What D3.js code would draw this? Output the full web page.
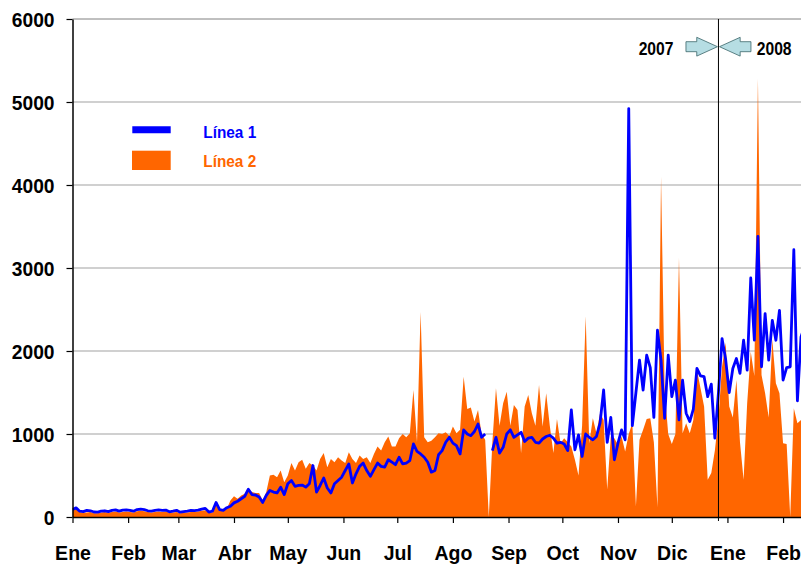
<!DOCTYPE html>
<html>
<head>
<meta charset="utf-8">
<script src="https://cdn.jsdelivr.net/npm/d3@7"></script>
<style>
  html, body { margin: 0; padding: 0; background: #ffffff; }
  svg { display: block; }
  text { font-family: "Liberation Sans", Arial, sans-serif; font-weight: bold; }
</style>
</head>
<body>
<script>
// ---------------- DATA ----------------
const seriesNames = ["Línea 1", "Línea 2"];
const monthLabels = ["Ene","Feb","Mar","Abr","May","Jun","Jul","Ago","Sep","Oct","Nov","Dic","Ene","Feb"];
const yTickValues = [0, 1000, 2000, 3000, 4000, 5000, 6000];
const yearLabels = ["2007", "2008"];
const startDate = Date.UTC(2007, 0, 1);
const endDate = Date.UTC(2008, 1, 11);
const yearBreakDate = Date.UTC(2007, 11, 27);
const stepDays = 2; // one value every 2 days

// Línea 1 (blue line), one value every 2 days from 1 Jan 2007
const linea1 = [
  90,110,70,65,80,75,60,58,70,75,
  65,80,85,70,82,85,80,70,90,96,
  88,75,72,80,85,80,84,62,70,80,
  58,65,72,80,78,82,95,104,60,70,
  175,90,80,112,130,170,190,220,250,335,
  270,265,240,175,260,320,300,290,360,270,
  400,440,370,380,385,360,400,620,300,380,
  470,350,290,400,440,480,560,640,410,520,
  610,650,560,490,570,650,610,600,690,660,
  630,720,640,650,680,880,790,760,720,660,
  540,560,750,800,900,960,890,860,760,1050,
  1000,980,1030,1120,960,1000,null,800,960,770,
  840,1000,1050,960,990,1020,910,950,960,900,
  890,940,970,985,950,890,900,880,800,1290,
  810,990,730,1000,960,930,970,1130,1530,900,
  1200,690,890,1050,930,4920,1100,1500,1890,1530,
  1950,1800,1200,2250,1890,1190,1950,1450,1650,1170,
  1650,1250,1150,1300,1790,1700,1690,1450,1600,950,
  1500,2150,1900,1500,1790,1910,1730,2130,1770,2880,
  2130,3380,1810,2450,1890,2370,2130,2490,1650,1800,
  1810,3220,1400,2170,2300
];

// Línea 2 (orange area), one value every 2 days from 1 Jan 2007
const linea2 = [
  90,100,60,50,55,60,45,45,55,60,
  50,60,65,55,60,65,60,55,70,75,
  70,60,55,60,65,60,65,50,55,60,
  45,50,55,60,60,65,75,80,50,55,
  150,75,70,100,200,250,220,260,280,330,
  300,290,290,200,300,500,510,480,560,420,
  500,650,560,660,690,580,650,620,560,700,
  770,600,700,660,720,680,650,780,700,650,
  740,700,720,650,760,850,800,900,970,850,
  850,950,1000,960,1010,1530,900,2470,960,900,
  920,960,1010,1000,1020,980,1090,1010,1050,1690,
  1300,1320,1150,1290,1000,930,0,900,1550,1100,
  1370,1510,1100,1350,1290,770,1330,1470,1250,1100,
  1590,1090,1490,1100,770,1180,890,950,900,850,
  690,500,1100,2420,890,1190,1010,1250,1170,330,
  970,950,870,970,790,1000,1130,130,930,1050,
  1180,1190,900,120,4100,1530,1000,880,1000,3120,
  1010,1130,1010,1170,1770,1550,1330,450,530,800,
  1200,1810,2100,1330,1200,1650,900,450,1370,1990,
  1700,5280,1710,1490,1200,2140,1610,1490,890,880,
  0,1310,1130,1170,770
];

// ---------------- CHART ----------------
const W = 801, H = 567;
const dayMs = 86400000;
const toRows = arr => arr.map((v, i) => ({ date: new Date(startDate + i * stepDays * dayMs), v }));
const rows1 = toRows(linea1);
const rows2 = toRows(linea2);

const svg = d3.select("body").append("svg").attr("width", W).attr("height", H);

const x = d3.scaleUtc().domain([new Date(startDate), new Date(endDate)]).range([72.5, 801]);
const y = d3.scaleLinear().domain([0, 6000]).range([517, 19]);

// gridlines
svg.append("g").selectAll("line")
  .data(yTickValues.filter(v => v > 0))
  .join("line")
  .attr("x1", x.range()[0]).attr("x2", W)
  .attr("y1", d => y(d)).attr("y2", d => y(d))
  .attr("stroke", d => d === 6000 ? "#808080" : "#c0c0c0")
  .attr("stroke-width", d => d === 6000 ? 1 : 1.5);

// clip
svg.append("clipPath").attr("id", "plotclip")
  .append("rect").attr("x", 72.5).attr("y", 0).attr("width", W - 72.5).attr("height", 517.5);

// orange area
svg.append("path")
  .datum(rows2)
  .attr("clip-path", "url(#plotclip)")
  .attr("fill", "#ff6600")
  .attr("d", d3.area().x(d => x(d.date)).y0(y(0)).y1(d => y(d.v)));

// blue line
svg.append("path")
  .datum(rows1)
  .attr("clip-path", "url(#plotclip)")
  .attr("fill", "none")
  .attr("stroke", "#0000ff")
  .attr("stroke-width", 2.8)
  .attr("stroke-linejoin", "round")
  .attr("d", d3.line().defined(d => d.v != null).x(d => x(d.date)).y(d => y(d.v)));

// year divider
const xb = x(new Date(yearBreakDate));
svg.append("line")
  .attr("x1", xb).attr("x2", xb).attr("y1", y(6000)).attr("y2", 521)
  .attr("stroke", "#000").attr("stroke-width", 1);

// axes
const ySX = 0.915;
const yAxis = svg.append("g")
  .attr("transform", `translate(${x.range()[0]},0)`)
  .call(d3.axisLeft(y).tickValues(yTickValues).tickSize(6).tickSizeOuter(0)
        .tickFormat(d => String(d)));
yAxis.select(".domain").attr("stroke", "#000").attr("stroke-width", 1.5);
yAxis.selectAll(".tick line").attr("stroke", "#000").attr("stroke-width", 1.2);
yAxis.selectAll(".tick text")
  .attr("x", -18 / ySX).attr("dy", "0.36em")
  .attr("transform", `scale(${ySX},1)`)
  .attr("fill", "#000")
  .style("font-size", "21px").style("font-family", "'Liberation Sans', Arial, sans-serif").style("font-weight", "bold");

const monthTicks = d3.utcMonth.range(new Date(startDate), new Date(endDate));
const xSX = 0.93;
const xAxis = svg.append("g")
  .attr("transform", `translate(0,${y(0)})`)
  .call(d3.axisBottom(x).tickValues(monthTicks).tickSize(6).tickSizeOuter(0)
        .tickFormat((d, i) => monthLabels[i]));
xAxis.select(".domain").attr("stroke", "#000").attr("stroke-width", 1.5);
xAxis.selectAll(".tick line").attr("stroke", "#000").attr("stroke-width", 1.2);
xAxis.selectAll(".tick text")
  .attr("y", 43).attr("dy", 0)
  .attr("transform", `scale(${xSX},1)`)
  .attr("fill", "#000")
  .style("font-size", "21px").style("font-family", "'Liberation Sans', Arial, sans-serif").style("font-weight", "bold");

// year arrows
const arrowFill = "#b6dde3", arrowStroke = "#3a6468";
const arrowY = 46.7;
function arrowPath(dir) { // dir=+1 points right (tip at xb-1), -1 points left (tip at xb+1)
  const tip = xb - dir * 1;
  const hb = tip - dir * 20.7;
  const sb = tip - dir * 31.5;
  return `M${sb},${arrowY - 5} L${hb},${arrowY - 5} L${hb},${arrowY - 9.4} L${tip},${arrowY} ` +
         `L${hb},${arrowY + 9.4} L${hb},${arrowY + 5} L${sb},${arrowY + 5} Z`;
}
svg.append("path").attr("d", arrowPath(1)).attr("fill", arrowFill).attr("stroke", arrowStroke).attr("stroke-width", 0.8);
svg.append("path").attr("d", arrowPath(-1)).attr("fill", arrowFill).attr("stroke", arrowStroke).attr("stroke-width", 0.8);

svg.append("text")
  .attr("transform", `translate(${xb - 45},55) scale(0.87,1)`)
  .attr("text-anchor", "end").attr("font-size", 18).attr("fill", "#000")
  .text(yearLabels[0]);
svg.append("text")
  .attr("transform", `translate(${xb + 38.3},55) scale(0.87,1)`)
  .attr("text-anchor", "start").attr("font-size", 18).attr("fill", "#000")
  .text(yearLabels[1]);

// legend
const leg = svg.append("g");
leg.append("line").attr("x1", 132.3).attr("x2", 170.7).attr("y1", 129.7).attr("y2", 129.7)
  .attr("stroke", "#0000ff").attr("stroke-width", 7);
leg.append("rect").attr("x", 132).attr("y", 150.7).attr("width", 38.7).attr("height", 19.3)
  .attr("fill", "#ff6600");
leg.append("text").attr("transform", "translate(203.3,138) scale(0.96,1)")
  .attr("font-size", 16).attr("fill", "#0000ff").text(seriesNames[0]);
leg.append("text").attr("transform", "translate(203.3,166.7) scale(0.96,1)")
  .attr("font-size", 16).attr("fill", "#ff6600").text(seriesNames[1]);
</script>
</body>
</html>
